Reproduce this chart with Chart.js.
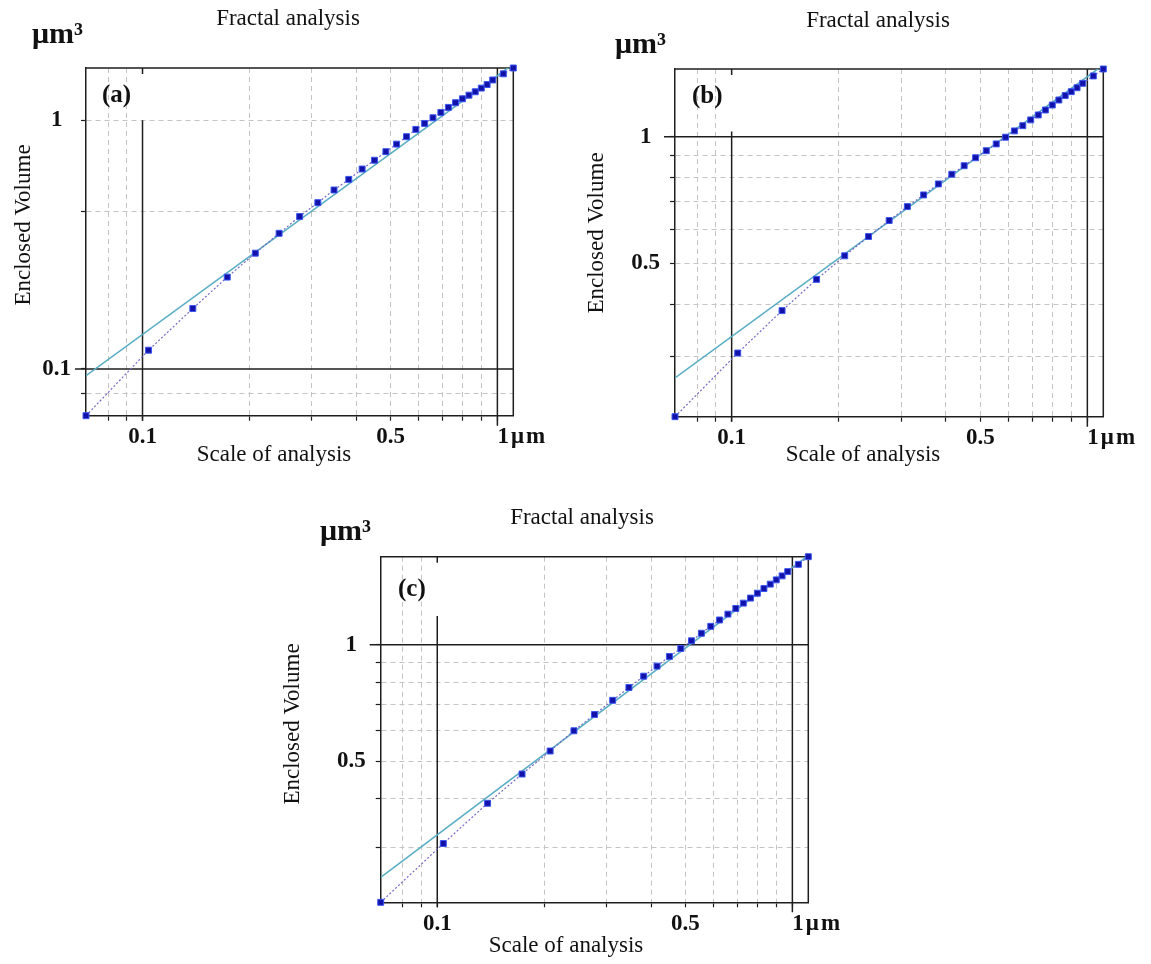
<!DOCTYPE html>
<html>
<head>
<meta charset="utf-8">
<title>Fractal analysis</title>
<script src="https://cdn.jsdelivr.net/npm/chart.js@4.4.1/dist/chart.umd.min.js"></script>
<style>
  html, body { margin: 0; padding: 0; background: #fff; overflow: hidden; }
  #page { position: relative; width: 1151px; height: 964px; }
  #page canvas { position: absolute; left: 0; top: 0; }
</style>
</head>
<body>
<div id="page">
  <canvas id="chartA" width="1151" height="964"></canvas>
  <canvas id="chartB" width="1151" height="964"></canvas>
  <canvas id="chartC" width="1151" height="964"></canvas>
</div>
<script>
// Scale of analysis (µm) - same sampling in the three panels
const scaleX = [0.0693, 0.104, 0.1386, 0.1733, 0.2079, 0.2426, 0.2772, 0.3119, 0.3465, 0.3812,
  0.4158, 0.4505, 0.4851, 0.5198, 0.5544, 0.5891, 0.6237, 0.6584, 0.693, 0.7277,
  0.7623, 0.797, 0.8316, 0.8663, 0.9009, 0.9356, 0.9702, 1.0395, 1.1088];

// Enclosed volume (µm³)
const volumeA = [0.0649, 0.119, 0.175, 0.234, 0.292, 0.351, 0.41, 0.466, 0.524, 0.578,
  0.636, 0.69, 0.747, 0.801, 0.858, 0.918, 0.97, 1.022, 1.074, 1.125,
  1.175, 1.218, 1.26, 1.3, 1.345, 1.39, 1.45, 1.535, 1.62];
const volumeB = [0.216, 0.306, 0.386, 0.458, 0.521, 0.579, 0.632, 0.682, 0.727, 0.772,
  0.814, 0.853, 0.891, 0.926, 0.961, 0.997, 1.032, 1.062, 1.096, 1.126,
  1.157, 1.189, 1.222, 1.252, 1.279, 1.307, 1.339, 1.394, 1.448];
const volumeC = [0.2165, 0.307, 0.39, 0.464, 0.532, 0.6, 0.661, 0.719, 0.776, 0.83,
  0.881, 0.933, 0.978, 1.024, 1.071, 1.116, 1.159, 1.2, 1.241, 1.281,
  1.32, 1.359, 1.397, 1.434, 1.471, 1.506, 1.545, 1.613, 1.688];

// Regression line (ends)
const fitX = [0.0693, 1.1088];
const fitA = [0.094, 1.68];
const fitB = [0.267, 1.48];
const fitC = [0.251, 1.70];

// Grid and tick labels
const gridX = [0.08, 0.09, 0.1, 0.2, 0.3, 0.4, 0.5, 0.6, 0.7, 0.8, 0.9, 1];
const gridYA = [0.08, 0.1, 0.43, 1];
const gridYBC = [0.3, 0.4, 0.5, 0.6, 0.7, 0.8, 0.9, 1];
const xTickLabels = [0.1, 0.5];
const yTickLabelsA = [0.1, 1];
const yTickLabelsBC = [0.5, 1];
const decadeX = [0.1, 1];
const decadeYA = [0.1];
const decadeYBC = [1];

(function () {
  'use strict';

  const INK = '#1e1e1e';
  const GRID = '#c4c4c4';
  const SERIF = '"Liberation Serif", "Times New Roman", serif';
  const PAGE_W = 1151;
  const PAGE_H = 964;
  const Y_AXIS_W = 50;
  const X_AXIS_H = 40;

  const same = (a, b) => Math.abs(a - b) < 1e-9;

  const panels = [
    {
      id: 'chartA', tag: '(a)', vol: volumeA, fit: fitA,
      gridY: gridYA, labelsY: yTickLabelsA, decadeY: decadeYA, innerTop: 1,
      area: { left: 86, top: 68, right: 513.3, bottom: 415.7 },
      pos: { title: [288, 19], unit: [32, 43], tag: [102, 96], yTitle: [24, 225], xTitle: [274, 455] }
    },
    {
      id: 'chartB', tag: '(b)', vol: volumeB, fit: fitB,
      gridY: gridYBC, labelsY: yTickLabelsBC, decadeY: decadeYBC, innerTop: 1.028,
      area: { left: 675, top: 69, right: 1103.3, bottom: 416.7 },
      pos: { title: [878, 21], unit: [615, 53], tag: [692, 97], yTitle: [597, 233], xTitle: [863, 455] }
    },
    {
      id: 'chartC', tag: '(c)', vol: volumeC, fit: fitC,
      gridY: gridYBC, labelsY: yTickLabelsBC, decadeY: decadeYBC, innerTop: 1.186,
      area: { left: 380.7, top: 556.7, right: 808.3, bottom: 902.3 },
      pos: { title: [582, 518], unit: [320, 540], tag: [398, 590], yTitle: [293, 724], xTitle: [566, 946] }
    }
  ];

  // Black decade lines, box, and the free texts of each panel
  const framePlugin = {
    id: 'frame',
    beforeDatasetsDraw(chart, args, opts) {
      const { ctx, chartArea: a, scales: { x, y } } = chart;
      ctx.save();
      ctx.strokeStyle = INK;
      ctx.lineWidth = 1.5;
      ctx.beginPath();
      ctx.moveTo(a.left, a.top);
      ctx.lineTo(a.right, a.top);
      ctx.lineTo(a.right, a.bottom);
      decadeX.forEach(v => {
        const px = x.getPixelForValue(v);
        const top = v === 1 ? a.top : y.getPixelForValue(opts.innerTop);
        ctx.moveTo(px, top);
        ctx.lineTo(px, a.bottom + (v === 1 ? 10 : 5));
      });
      opts.decadeY.forEach(v => {
        const py = y.getPixelForValue(v);
        ctx.moveTo(a.left - 11, py);
        ctx.lineTo(a.right, py);
      });
      const p01 = x.getPixelForValue(0.1);
      ctx.moveTo(p01, a.top);
      ctx.lineTo(p01, a.top + 6);
      ctx.stroke();
      ctx.restore();
    },
    afterDraw(chart, args, opts) {
      const { ctx, chartArea: a, scales: { x } } = chart;
      const p = opts.pos;
      ctx.save();
      ctx.fillStyle = '#111';

      ctx.font = '23px ' + SERIF;
      ctx.textAlign = 'center';
      ctx.textBaseline = 'middle';
      ctx.fillText('Fractal analysis', p.title[0], p.title[1]);
      ctx.fillText('Scale of analysis', p.xTitle[0], p.xTitle[1]);

      ctx.save();
      ctx.translate(p.yTitle[0], p.yTitle[1]);
      ctx.rotate(-Math.PI / 2);
      ctx.fillText('Enclosed Volume', 0, 0);
      ctx.restore();

      ctx.font = 'bold 30px ' + SERIF;
      ctx.textAlign = 'left';
      ctx.textBaseline = 'alphabetic';
      ctx.fillText('μm³', p.unit[0], p.unit[1]);

      ctx.font = 'bold 25px ' + SERIF;
      ctx.textBaseline = 'middle';
      ctx.fillText(opts.tag, p.tag[0], p.tag[1]);

      // unit label on the last decade of the x axis
      ctx.font = 'bold 23px ' + SERIF;
      ctx.letterSpacing = '2px';
      ctx.fillText('1μm', x.getPixelForValue(1), a.bottom + 21.5);
      ctx.restore();
    }
  };

  function buildChart(panel) {
    const el = document.getElementById(panel.id);
    const points = scaleX.map((v, i) => ({ x: v, y: panel.vol[i] }));
    const fitLine = fitX.map((v, i) => ({ x: v, y: panel.fit[i] }));

    const gridStyle = (decades) => ({
      color: c => (c.tick && decades.some(d => same(d, c.tick.value))) ? 'rgba(0,0,0,0)' : GRID,
      lineWidth: 1,
      tickColor: INK,
      tickLength: 5,
      tickWidth: 1.2
    });

    return new Chart(el, {
      type: 'scatter',
      data: {
        datasets: [
          {
            label: 'Enclosed volume',
            data: points,
            showLine: true,
            borderColor: '#7568c6',
            borderWidth: 1.2,
            borderDash: [2, 2],
            pointStyle: 'rect',
            pointRadius: 4.2,
            pointBackgroundColor: '#1212a8',
            pointBorderColor: '#3a55f0',
            pointBorderWidth: 1,
            clip: 8,
            order: 0
          },
          {
            label: 'Regression',
            data: fitLine,
            showLine: true,
            borderColor: '#5aaec4',
            borderWidth: 1.6,
            pointRadius: 0,
            order: 1
          }
        ]
      },
      options: {
        responsive: false,
        animation: false,
        events: [],
        layout: {
          padding: {
            left: panel.area.left - Y_AXIS_W,
            top: panel.area.top,
            right: PAGE_W - panel.area.right,
            bottom: PAGE_H - panel.area.bottom - X_AXIS_H
          }
        },
        plugins: {
          legend: { display: false },
          tooltip: { enabled: false },
          frame: { pos: panel.pos, tag: panel.tag, decadeY: panel.decadeY, innerTop: panel.innerTop }
        },
        scales: {
          x: {
            type: 'logarithmic',
            min: Math.min(...scaleX),
            max: Math.max(...scaleX),
            afterBuildTicks: s => { s.ticks = gridX.map(v => ({ value: v })); },
            afterFit: s => { s.height = X_AXIS_H; },
            grid: gridStyle(decadeX),
            border: { display: true, color: INK, width: 1.5, dash: [5, 4] },
            ticks: {
              autoSkip: false,
              maxRotation: 0,
              padding: 3,
              color: '#111',
              font: { family: SERIF, size: 23, weight: 'bold' },
              callback: v => xTickLabels.some(t => same(t, v)) ? String(v) : ''
            }
          },
          y: {
            type: 'logarithmic',
            min: Math.min(...panel.vol),
            max: Math.max(...panel.vol),
            afterBuildTicks: s => { s.ticks = panel.gridY.map(v => ({ value: v })); },
            afterFit: s => { s.width = Y_AXIS_W; },
            grid: gridStyle(panel.decadeY),
            border: { display: true, color: INK, width: 1.5, dash: [5, 4] },
            ticks: {
              autoSkip: false,
              padding: 10,
              crossAlign: 'center',
              color: '#111',
              font: { family: SERIF, size: 23, weight: 'bold' },
              callback: v => panel.labelsY.some(t => same(t, v)) ? String(v) : ''
            }
          }
        }
      },
      plugins: [framePlugin]
    });
  }

  panels.forEach(buildChart);
})();
</script>
</body>
</html>
